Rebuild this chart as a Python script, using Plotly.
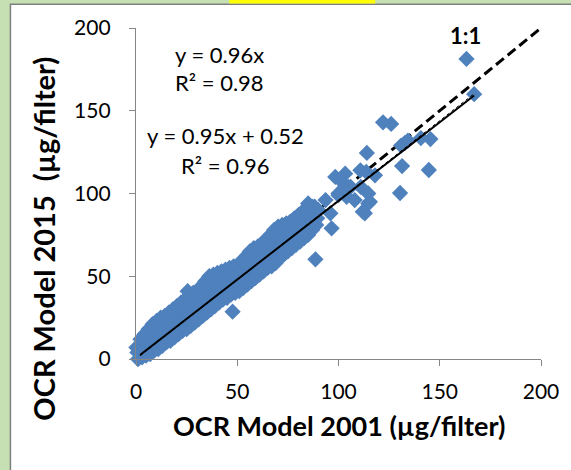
import numpy as np
import plotly.graph_objects as go

# OCR filter loadings (µg/filter): Model 2001 (x) vs Model 2015 (y)
ocr_2001 = [
    1, 2.5, 0.7, 0.2,
    3, 3.5, 2.7, 2.2, 5, 5.5, 4.7, 4.2, 7, 7.5, 6.7, 6.2, 9, 9.5, 8.7, 8.2,
    11, 11.5, 10.7, 10.2, 13, 13.5, 12.7, 12.2, 15, 15.5, 14.7, 14.2,
    17, 17.5, 16.7, 16.2, 19, 19.5, 18.7, 18.2, 21, 21.5, 20.7, 20.2,
    23, 23.5, 22.7, 22.2, 25, 25.5, 24.7, 24.2, 27, 27.5, 26.7, 26.2,
    29, 29.5, 28.7, 28.2, 31, 31.5, 30.7, 30.2, 33, 33.5, 32.7, 32.2,
    35, 35.5, 34.7, 34.2, 37, 37.5, 36.7, 36.2, 39, 39.5, 38.7, 38.2,
    41, 41.5, 40.7, 40.2, 43, 43.5, 42.7, 42.2, 45, 45.5, 44.7, 44.2,
    47, 47.5, 46.7, 46.2, 49, 49.5, 48.7, 48.2, 51, 51.5, 50.7, 50.2,
    53, 53.5, 52.7, 52.2, 55, 55.5, 54.7, 54.2, 57, 57.5, 56.7, 56.2,
    59, 59.5, 58.7, 58.2, 61, 61.5, 60.7, 60.2, 63, 63.5, 62.7, 62.2,
    65, 65.5, 64.7, 64.2, 67, 67.5, 66.7, 66.2, 69, 69.5, 68.7, 68.2,
    71, 71.5, 70.7, 70.2, 73, 73.5, 72.7, 72.2, 75, 75.5, 74.7, 74.2,
    77, 77.5, 76.7, 76.2, 79, 79.5, 78.7, 78.2, 81, 81.5, 80.7, 80.2,
    83, 83.5, 82.7, 82.2, 85, 85.5, 84.7, 84.2, 87, 87.5, 86.7, 86.2,
    89, 89.5, 88.7, 88.2,
    25.5, 47.7, 88.6, 96.6, 93.6, 100, 104, 96, 108, 113, 114.7, 87,
    90, 85, 98.4, 103.3, 102.5, 105, 111, 114.7, 115.5, 112, 110.8,
    118, 113.7, 114, 122, 126, 130.4, 131.4, 144.6, 145.4, 140.7,
    132.7, 130.9, 134.3, 163.2, 167, 100, 106,
]
ocr_2015 = [
    0, 2, 4, 7,
    1, 5, 8, 12, 2, 6, 11, 15, 3, 8, 13, 18, 5, 10, 16, 21,
    6, 12, 18, 23, 8, 14, 20, 25, 10, 15, 21, 26,
    11, 17, 23, 28, 13, 19, 25, 30, 15, 21, 27, 32,
    17, 23, 29, 34, 18, 24, 30, 36, 20, 26, 32, 38,
    22, 28, 34, 40, 24, 30, 36, 41, 26, 32, 38, 44,
    28, 34, 41, 47, 30, 37, 44, 50, 32, 38, 45, 51,
    34, 40, 46, 52, 36, 42, 48, 53, 37, 43, 49, 54,
    39, 45, 50, 55, 40, 46, 51, 56, 41, 47, 52, 57,
    43, 48, 54, 59, 45, 51, 57, 62, 47, 53, 59, 65,
    49, 55, 61, 67, 51, 57, 63, 68, 53, 59, 65, 70,
    55, 61, 67, 72, 56, 62, 69, 75, 58, 65, 72, 78,
    61, 67, 74, 80, 63, 69, 75, 81, 65, 71, 77, 82,
    67, 73, 78, 83, 69, 74, 80, 85, 71, 76, 82, 87,
    73, 78, 84, 89, 75, 80, 85, 90, 78, 83, 87, 91,
    81, 85, 89, 92,
    41, 28.6, 60.2, 79, 96, 99, 98, 88, 96, 88, 94, 92,
    90, 94, 110, 112, 106, 104, 104, 100, 95, 89, 114,
    111, 113, 124.5, 143, 142, 100.3, 116.6, 114.2, 132.9, 133.5,
    130.5, 129, 132, 181.3, 160, 100, 104,
]

# Fitted trend lines and their statistics
fit_origin_slope, fit_origin_r2 = 0.96, 0.98
fit_slope, fit_intercept, fit_r2 = 0.95, 0.52, 0.96
fit_x_range = [2, 167]
one_to_one = [0, 200]

ticks = [0, 50, 100, 150, 200]

FONT = "Lato"
BLUE = "#4f81bd"
GREEN = "#c6e0b4"
AXIS = "#868686"

fig = go.Figure()

# 1:1 reference line, beneath the markers
fig.add_trace(go.Scatter(
    x=one_to_one, y=one_to_one, mode="lines",
    line=dict(color="black", width=3, dash="10px,5px"),
    hoverinfo="skip", showlegend=False,
))

fig.add_trace(go.Scatter(
    x=ocr_2001, y=ocr_2015, mode="markers",
    marker=dict(symbol="diamond", size=12.5, color=BLUE, line=dict(width=0)),
    cliponaxis=False, showlegend=False,
))

fx = np.array(fit_x_range, dtype=float)
fig.add_trace(go.Scatter(
    x=fx, y=fit_origin_slope * fx, mode="lines",
    line=dict(color="black", width=1, dash="dot"),
    hoverinfo="skip", showlegend=False,
))
fig.add_trace(go.Scatter(
    x=fx, y=fit_slope * fx + fit_intercept, mode="lines",
    line=dict(color="black", width=2),
    hoverinfo="skip", showlegend=False,
))

ann_font = dict(family=FONT, size=22, color="black")
annotations = [
    dict(x=41.2, y=183.7, text=f"y = {fit_origin_slope:.2f}x"),
    dict(x=41.2, y=166.8, text=f"R² = {fit_origin_r2:.2f}"),
    dict(x=44.1, y=135.3, text=f"y = {fit_slope:.2f}x + {fit_intercept:.2f}"),
    dict(x=44.1, y=117.2, text=f"R² = {fit_r2:.2f}"),
]
for a in annotations:
    a.update(xref="x", yref="y", showarrow=False, font=ann_font,
             xanchor="center", yanchor="middle")
annotations.append(dict(
    x=162.7, y=195.2, xref="x", yref="y", text="<b>1:1</b>", showarrow=False,
    font=dict(family=FONT, size=22, color="black"), xanchor="center", yanchor="middle",
))
# Axis titles
annotations.append(dict(
    x=0.5, y=-0.1994, xref="paper", yref="paper",
    text="<b>OCR Model 2001 (µg/filter)</b>", showarrow=False,
    font=dict(family=FONT, size=27, color="black"), xanchor="center", yanchor="middle",
))
annotations.append(dict(
    x=-0.2304, y=0.3625, xref="paper", yref="paper",
    text="<b>OCR Model 2015  (µg/filter)</b>", showarrow=False, textangle=-90,
    font=dict(family=FONT, size=29, color="black"), xanchor="center", yanchor="middle",
))

shapes = [
    # white chart panel with grey frame on the green page
    dict(type="rect", xref="paper", yref="paper",
         x0=-0.31005, x1=1.1, y0=-0.37, y1=1.0716,
         fillcolor="white", line=dict(color="#7f7f7f", width=1.5), layer="below"),
    # yellow tab at the top edge
    dict(type="rect", xref="paper", yref="paper",
         x0=0.2304, x1=0.5907, y0=1.074, y1=1.11,
         fillcolor="#ffff00", line=dict(width=0), layer="below"),
]

axis_common = dict(
    range=[0, 200], tickvals=ticks, showgrid=False, zeroline=False,
    showline=True, linecolor=AXIS, linewidth=1.3,
    ticks="outside", tickcolor=AXIS, tickwidth=1.3, ticklen=6,
    tickfont=dict(family=FONT, size=21, color="black"),
)

fig.update_layout(
    width=571, height=470,
    margin=dict(l=136, r=27, t=28, b=111),
    paper_bgcolor=GREEN, plot_bgcolor="rgba(0,0,0,0)",
    xaxis=dict(**axis_common, ticklabelstandoff=8),
    yaxis=dict(**axis_common, ticklabelstandoff=14),
    shapes=shapes, annotations=annotations,
)

fig.write_html("out.html")
